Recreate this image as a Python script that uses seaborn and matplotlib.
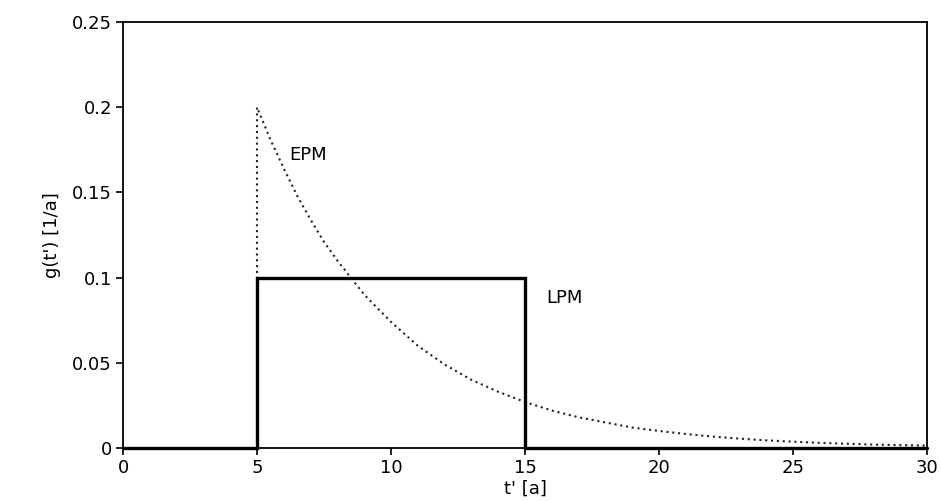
import matplotlib
matplotlib.use("Agg")
import matplotlib.pyplot as plt
import seaborn as sns
import pandas as pd

# Piston-flow model (LPM): box-shaped transit-time distribution
t_lpm = [0, 5, 5, 15, 15, 30]
g_lpm = [0.0, 0.0, 0.1, 0.1, 0.0, 0.0]

# Exponential-piston-flow model (EPM)
t_epm = [5, 5, 5.5, 6, 6.5, 7, 7.5, 8, 9, 10, 11, 12, 13, 14, 15, 16, 17, 18, 19, 20,
         21, 22, 23, 24, 25, 26, 27, 28, 29, 30]
g_epm = [0.0, 0.200, 0.181, 0.164, 0.148, 0.134, 0.121, 0.110, 0.090, 0.074, 0.060,
         0.049, 0.040, 0.033, 0.027, 0.022, 0.018, 0.015, 0.012, 0.010, 0.0082,
         0.0067, 0.0055, 0.0045, 0.0037, 0.0030, 0.0025, 0.0020, 0.0017, 0.0014]

x_ticks = [0, 5, 10, 15, 20, 25, 30]
y_ticks = [0, 0.05, 0.1, 0.15, 0.2, 0.25]
y_tick_labels = ["0", "0.05", "0.1", "0.15", "0.2", "0.25"]

sns.set_style("ticks")
plt.rcParams["font.family"] = ["DejaVu Sans"]
plt.rcParams["text.color"] = "black"
plt.rcParams["axes.labelcolor"] = "black"

df_lpm = pd.DataFrame({"t": t_lpm, "g": g_lpm})
df_epm = pd.DataFrame({"t": t_epm, "g": g_epm})

fig = plt.figure(figsize=(9.41, 5.01), dpi=100)
ax = fig.add_axes([123 / 941, 1 - 448 / 501, (927 - 123) / 941, (448 - 22) / 501])

sns.lineplot(data=df_epm, x="t", y="g", ax=ax, sort=False, estimator=None,
             errorbar=None, color="#222222", linewidth=1.5, linestyle=(0, (1, 1.8)))
sns.lineplot(data=df_lpm, x="t", y="g", ax=ax, sort=False, estimator=None,
             errorbar=None, color="black", linewidth=2.4)
lpm_line = ax.lines[-1]
lpm_line.set_solid_joinstyle("miter")
lpm_line.set_clip_on(False)

ax.set_xlim(0, 30)
ax.set_ylim(0, 0.25)
ax.set_xticks(x_ticks)
ax.set_yticks(y_ticks)
ax.set_yticklabels(y_tick_labels)
ax.tick_params(axis="both", direction="out", length=5, width=1.2, labelsize=13,
               colors="black", pad=3)
for side in ["top", "right", "bottom", "left"]:
    ax.spines[side].set_visible(True)
    ax.spines[side].set_linewidth(1.3)
    ax.spines[side].set_color("black")

ax.set_xlabel("t' [a]", fontsize=13, labelpad=2)
ax.set_ylabel("g(t') [1/a]", fontsize=13, labelpad=8)

ax.text(6.2, 0.172, "EPM", fontsize=13, va="center", ha="left")
ax.text(15.8, 0.088, "LPM", fontsize=13, va="center", ha="left")

fig.savefig("out.png", dpi=100)
